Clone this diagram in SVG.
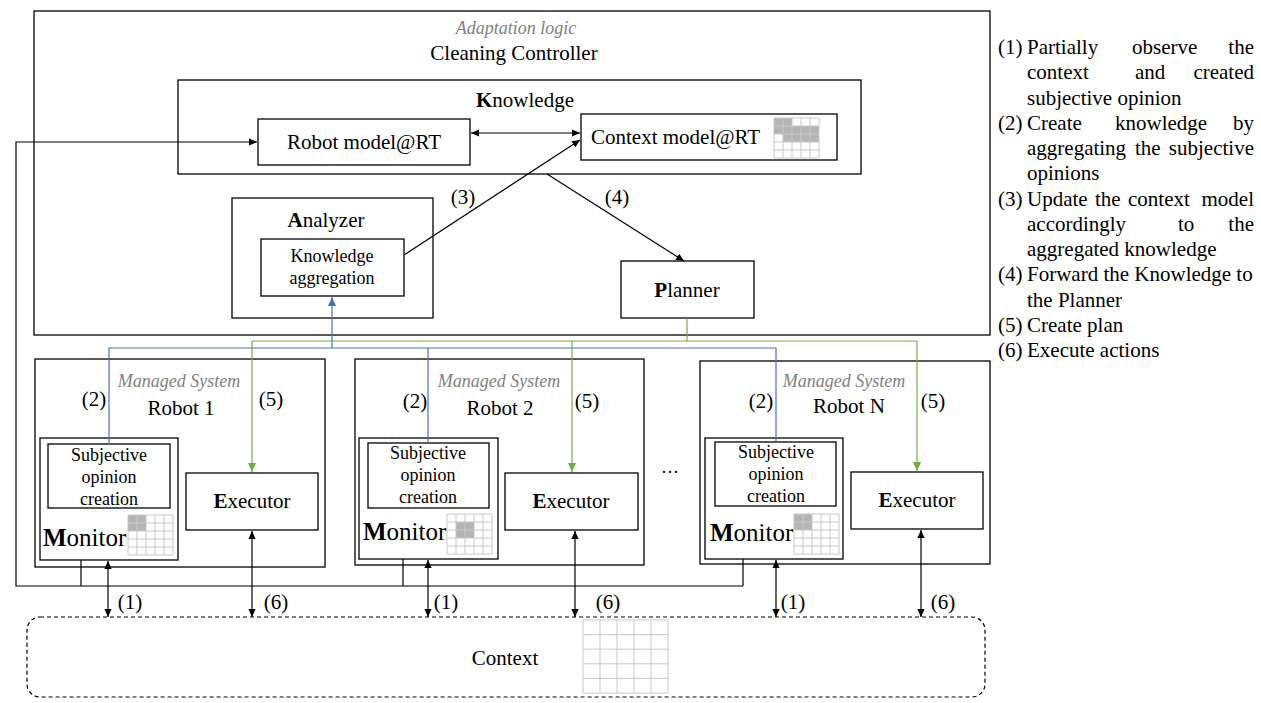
<svg xmlns="http://www.w3.org/2000/svg" width="1261" height="703" viewBox="0 0 1261 703">
<defs>
<marker id="ah" viewBox="0 0 10 10" refX="10" refY="5" markerWidth="8" markerHeight="8" markerUnits="userSpaceOnUse" orient="auto-start-reverse"><path d="M0,0.5 L10,5 L0,9.5 z" fill="#000"/></marker>
<marker id="ahb" viewBox="0 0 10 10" refX="10" refY="5" markerWidth="9" markerHeight="9" markerUnits="userSpaceOnUse" orient="auto-start-reverse"><path d="M0,0.5 L10,5 L0,9.5 z" fill="#4472c4"/></marker>
<marker id="ahg" viewBox="0 0 10 10" refX="10" refY="5" markerWidth="9" markerHeight="9" markerUnits="userSpaceOnUse" orient="auto-start-reverse"><path d="M0,0.5 L10,5 L0,9.5 z" fill="#70ad47"/></marker>
</defs>
<style>
text{font-family:"Liberation Serif","Times New Roman",serif;fill:#000;font-size:21px}
.box{fill:#fff;stroke:#000;stroke-width:1.3}
.c{text-anchor:middle}
.e{text-anchor:end}
.it{font-style:italic;fill:#808080;font-size:18px}
.sm{font-size:18px}
.mon{font-size:25px}
.b{font-weight:bold}
.ln{fill:none;stroke:#000;stroke-width:1.2}
.blue{fill:none;stroke:#4472c4;stroke-width:1.2}
.green{fill:none;stroke:#70ad47;stroke-width:1.2}
.grid{fill:none;stroke:#c8c8c8;stroke-width:1}
.sh{fill:#b4b4b4}
</style>
<rect width="1261" height="703" fill="#fff"/>

<g id="adaptation-logic">
<rect class="box" x="34" y="11" width="956" height="324"/>
<text class="c it" x="516" y="34">Adaptation logic</text>
<text class="c" x="514" y="60">Cleaning Controller</text>
</g>

<g id="knowledge">
<rect class="box" x="178" y="80" width="683" height="94"/>
<text class="c" x="525" y="107"><tspan class="b">K</tspan>nowledge</text>
</g>

<g id="robot-model">
<rect class="box" x="258" y="119" width="212" height="46"/>
<text class="c" x="364" y="149">Robot model@RT</text>
</g>

<g id="context-model">
<rect class="box" x="581" y="114" width="256" height="46"/>
<text x="591" y="144">Context model@RT</text>
<path class="sh" d="M774,118H792V126H819V142H783V134H774z"/>
<path class="grid" d="M774,118v40M783,118v40M792,118v40M801,118v40M810,118v40M819,118v40M774,118h45M774,126h45M774,134h45M774,142h45M774,150h45M774,158h45"/>
</g>

<g id="analyzer">
<rect class="box" x="232" y="198" width="201" height="120"/>
<text class="c" x="326" y="227"><tspan class="b">A</tspan>nalyzer</text>
</g>

<g id="knowledge-aggregation">
<rect class="box" x="261" y="239" width="143" height="57"/>
<text class="c sm" x="332" y="262">Knowledge</text>
<text class="c sm" x="332" y="284">aggregation</text>
</g>

<g id="planner">
<rect class="box" x="621" y="261" width="133" height="57"/>
<text class="c" x="687" y="297"><tspan class="b">P</tspan>lanner</text>
</g>

<g id="robot1">
<rect class="box" x="35" y="359" width="290" height="208"/>
<text class="c it" x="179" y="387">Managed System</text>
<text class="c" x="181" y="415">Robot 1</text>
</g>
<g id="monitor1">
<rect class="box" x="40" y="438" width="138" height="122"/>
<text class="mon" x="43" y="546"><tspan class="b">M</tspan>onitor</text>
<rect class="sh" x="128" y="515" width="18" height="16"/>
<path class="grid" d="M128,515v40M137,515v40M146,515v40M155,515v40M164,515v40M173,515v40M128,515h45M128,523h45M128,531h45M128,539h45M128,547h45M128,555h45"/>
</g>
<g id="subjective1">
<rect class="box" x="48" y="444" width="122" height="64"/>
<text class="c sm" x="109" y="461">Subjective</text>
<text class="c sm" x="109" y="483">opinion</text>
<text class="c sm" x="109" y="505">creation</text>
</g>
<g id="executor1">
<rect class="box" x="186" y="473" width="132" height="57"/>
<text class="c" x="252" y="508"><tspan class="b">E</tspan>xecutor</text>
</g>

<g id="robot2">
<rect class="box" x="355" y="359" width="289" height="206"/>
<text class="c it" x="499" y="387">Managed System</text>
<text class="c" x="500" y="415">Robot 2</text>
</g>
<g id="monitor2">
<rect class="box" x="359" y="438" width="139" height="121"/>
<text class="mon" x="363" y="540"><tspan class="b">M</tspan>onitor</text>
<rect class="sh" x="456" y="522" width="18" height="16"/>
<path class="grid" d="M447,514v40M456,514v40M465,514v40M474,514v40M483,514v40M492,514v40M447,514h45M447,522h45M447,530h45M447,538h45M447,546h45M447,554h45"/>
</g>
<g id="subjective2">
<rect class="box" x="368" y="443" width="121" height="65"/>
<text class="c sm" x="428" y="459">Subjective</text>
<text class="c sm" x="428" y="481">opinion</text>
<text class="c sm" x="428" y="503">creation</text>
</g>
<g id="executor2">
<rect class="box" x="505" y="473" width="133" height="57"/>
<text class="c" x="571" y="508"><tspan class="b">E</tspan>xecutor</text>
</g>

<g id="ellipsis">
<text class="c sm" x="670" y="473">…</text>
</g>

<g id="robotN">
<rect class="box" x="700" y="361" width="290" height="203"/>
<text class="c it" x="844" y="387">Managed System</text>
<text class="c" x="849" y="413">Robot N</text>
</g>
<g id="monitorN">
<rect class="box" x="705" y="438" width="138" height="121"/>
<text class="mon" x="710" y="541"><tspan class="b">M</tspan>onitor</text>
<rect class="sh" x="794" y="514" width="18" height="16"/>
<path class="grid" d="M794,514v40M803,514v40M812,514v40M821,514v40M830,514v40M839,514v40M794,514h45M794,522h45M794,530h45M794,538h45M794,546h45M794,554h45"/>
</g>
<g id="subjectiveN">
<rect class="box" x="715" y="442" width="121" height="64"/>
<text class="c sm" x="776" y="458">Subjective</text>
<text class="c sm" x="776" y="480">opinion</text>
<text class="c sm" x="776" y="502">creation</text>
</g>
<g id="executorN">
<rect class="box" x="851" y="472" width="132" height="57"/>
<text class="c" x="917" y="507"><tspan class="b">E</tspan>xecutor</text>
</g>

<g id="context">
<rect x="27" y="617" width="958" height="80" rx="13" fill="#fff" stroke="#000" stroke-width="1.2" stroke-dasharray="4 3"/>
<text class="c" x="505" y="665">Context</text>
<path class="grid" stroke="#888" d="M583,620v73M600,620v73M617,620v73M634,620v73M651,620v73M668,620v73M583,620h85M583,634.6h85M583,649.2h85M583,663.8h85M583,678.4h85M583,693h85"/>
</g>

<g id="connectors">
<path class="ln" d="M81,560V586M403,559V586M743,559V586M743,586H16V142H257" marker-end="url(#ah)"/>
<line class="ln" x1="471" y1="133" x2="580" y2="133" marker-start="url(#ah)" marker-end="url(#ah)"/>
<line class="ln" x1="404" y1="255" x2="580" y2="140" marker-end="url(#ah)"/>
<line class="ln" x1="547" y1="174" x2="684" y2="261" marker-end="url(#ah)"/>
<path class="blue" d="M109,444V348H776V441M428,348V443"/>
<line class="blue" x1="332" y1="348" x2="332" y2="297" marker-end="url(#ahb)"/>
<path class="green" d="M687,318V341"/>
<path class="green" d="M252,341H917"/>
<line class="green" x1="252" y1="341" x2="252" y2="472" marker-end="url(#ahg)"/>
<line class="green" x1="572" y1="341" x2="572" y2="472" marker-end="url(#ahg)"/>
<line class="green" x1="917" y1="341" x2="917" y2="471" marker-end="url(#ahg)"/>
<line class="ln" x1="108" y1="561" x2="108" y2="617" marker-start="url(#ah)" marker-end="url(#ah)"/>
<line class="ln" x1="252" y1="531" x2="252" y2="617" marker-start="url(#ah)" marker-end="url(#ah)"/>
<line class="ln" x1="428" y1="560" x2="428" y2="617" marker-start="url(#ah)" marker-end="url(#ah)"/>
<line class="ln" x1="575" y1="531" x2="575" y2="617" marker-start="url(#ah)" marker-end="url(#ah)"/>
<line class="ln" x1="776" y1="560" x2="776" y2="617" marker-start="url(#ah)" marker-end="url(#ah)"/>
<line class="ln" x1="921" y1="530" x2="921" y2="617" marker-start="url(#ah)" marker-end="url(#ah)"/>
<text class="c" x="463" y="204">(3)</text>
<text class="c" x="617" y="204">(4)</text>
<text class="c" x="94" y="406">(2)</text>
<text class="c" x="271" y="406">(5)</text>
<text class="c" x="415" y="408">(2)</text>
<text class="c" x="587" y="408">(5)</text>
<text class="c" x="761" y="408">(2)</text>
<text class="c" x="933" y="408">(5)</text>
<text class="c" x="130" y="609">(1)</text>
<text class="c" x="276" y="609">(6)</text>
<text class="c" x="446" y="609">(1)</text>
<text class="c" x="608" y="609">(6)</text>
<text class="c" x="793" y="609">(1)</text>
<text class="c" x="943" y="609">(6)</text>
</g>

<g id="legend">
<text x="998" y="54">(1)</text>
<text x="1027" y="54">Partially</text>
<text x="1132" y="54">observe</text>
<text class="e" x="1254" y="54">the</text>
<text x="1027" y="79">context</text>
<text x="1135" y="79">and</text>
<text class="e" x="1254" y="79">created</text>
<text x="1027" y="104.5">subjective opinion</text>
<text x="998" y="130">(2)</text>
<text x="1027" y="130">Create</text>
<text x="1115" y="130">knowledge</text>
<text class="e" x="1254" y="130">by</text>
<text x="1027" y="155">aggregating</text>
<text x="1135" y="155">the</text>
<text class="e" x="1254" y="155">subjective</text>
<text x="1027" y="180">opinions</text>
<text x="998" y="205.5">(3)</text>
<text x="1027" y="205.5">Update</text>
<text x="1095" y="205.5">the</text>
<text x="1128" y="205.5">context</text>
<text class="e" x="1254" y="205.5">model</text>
<text x="1027" y="231">accordingly</text>
<text x="1178" y="231">to</text>
<text class="e" x="1254" y="231">the</text>
<text x="1027" y="256">aggregated knowledge</text>
<text x="998" y="281">(4)</text>
<text x="1027" y="281">Forward the Knowledge to</text>
<text x="1027" y="306.5">the Planner</text>
<text x="998" y="332">(5)</text>
<text x="1027" y="332">Create plan</text>
<text x="998" y="357">(6)</text>
<text x="1027" y="357">Execute actions</text>
</g>
</svg>
